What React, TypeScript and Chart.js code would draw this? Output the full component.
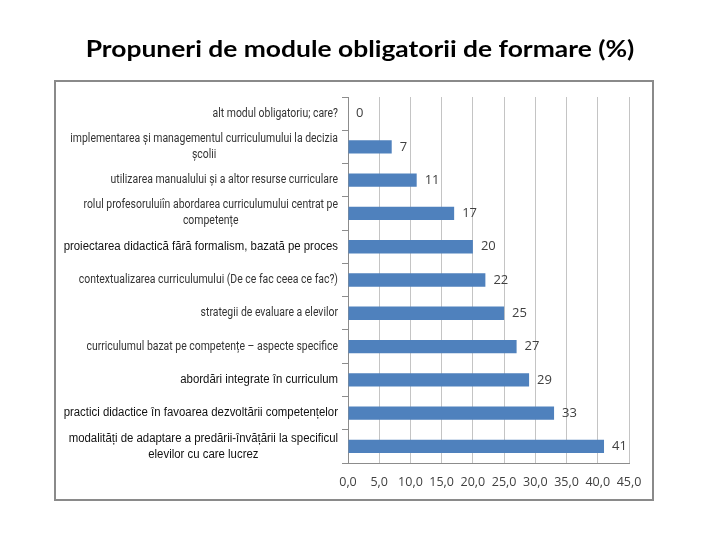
import { useEffect, useRef } from "react";
import { Chart, registerables } from "chart.js";

Chart.register(...registerables);

const titleText = "Propuneri de module obligatorii de formare (%)";

const categories: string[][] = [
  ["alt modul obligatoriu; care?"],
  ["implementarea și managementul curriculumului la decizia", "școlii"],
  ["utilizarea manualului și a altor resurse curriculare"],
  ["rolul profesoruluiîn abordarea curriculumului centrat pe", "competențe"],
  ["proiectarea didactică fără formalism, bazată pe proces"],
  ["contextualizarea curriculumului (De ce fac ceea ce fac?)"],
  ["strategii de evaluare a elevilor"],
  ["curriculumul bazat pe competențe – aspecte specifice"],
  ["abordări integrate în curriculum"],
  ["practici didactice în favoarea dezvoltării competențelor"],
  ["modalități de adaptare a predării-învățării la specificul", "elevilor cu care lucrez"],
];

const categoryFontKind = ["narrow", "narrow", "narrow", "narrow", "sans", "narrow", "narrow", "narrow", "sans", "sans", "sans"];

const values = [0, 7, 11, 17, 20, 22, 25, 27, 29, 33, 41];

const xTickLabels = ["0,0", "5,0", "10,0", "15,0", "20,0", "25,0", "30,0", "35,0", "40,0", "45,0"];

const NARROW_FONT = '12px "Roboto", sans-serif';
const NARROW_SCALE = 0.87;
const SANS_FONT = '12px "Liberation Sans", Arial, sans-serif';
const SANS_SCALE = 0.95;
const TITLE_FONT = 'bold 22px "Lato", "Open Sans", sans-serif';
const TITLE_SCALE = 1.2;

export default function App() {
  const canvasRef = useRef<HTMLCanvasElement | null>(null);

  useEffect(() => {
    const canvas = canvasRef.current;
    if (!canvas) return;

    const decorPlugin = {
      id: "decor",
      beforeDraw(chart: any) {
        const ctx = chart.ctx;
        ctx.save();
        ctx.fillStyle = "#ffffff";
        ctx.fillRect(0, 0, chart.width, chart.height);
        ctx.strokeStyle = "#8a8a8a";
        ctx.lineWidth = 2;
        ctx.strokeRect(55, 81, 598, 419);
        ctx.fillStyle = "#000000";
        ctx.font = TITLE_FONT;
        ctx.textAlign = "center";
        ctx.textBaseline = "middle";
        ctx.translate(360, 50);
        ctx.scale(TITLE_SCALE, 1);
        ctx.fillText(titleText, 0, 0);
        ctx.restore();
      },
      afterDraw(chart: any) {
        const ctx = chart.ctx;
        const yScale = chart.scales.y;
        const rightEdge = chart.chartArea.left - 10;
        categories.forEach((lines, i) => {
          const kind = categoryFontKind[i];
          const sx = kind === "sans" ? SANS_SCALE : NARROW_SCALE;
          ctx.save();
          ctx.textBaseline = "middle";
          ctx.textAlign = "center";
          ctx.font = kind === "sans" ? SANS_FONT : NARROW_FONT;
          ctx.fillStyle = kind === "sans" ? "#111111" : "#333333";
          let maxW = 0;
          lines.forEach((l) => {
            maxW = Math.max(maxW, ctx.measureText(l).width * sx);
          });
          const cx = rightEdge - maxW / 2;
          const yc = yScale.getPixelForValue(i);
          const lh = 16;
          const start = yc - ((lines.length - 1) * lh) / 2;
          lines.forEach((l, j) => {
            ctx.save();
            ctx.translate(cx, start + j * lh);
            ctx.scale(sx, 1);
            ctx.fillText(l, 0, 0);
            ctx.restore();
          });
          ctx.restore();
        });
      },
      afterDatasetsDraw(chart: any) {
        const ctx = chart.ctx;
        const meta = chart.getDatasetMeta(0);
        ctx.save();
        ctx.font = '13px "Open Sans", sans-serif';
        ctx.fillStyle = "#404040";
        ctx.textAlign = "left";
        ctx.textBaseline = "middle";
        meta.data.forEach((el: any, i: number) => {
          ctx.fillText(String(values[i]), el.x + 8, el.y);
        });
        ctx.restore();
      },
    };

    const chart = new Chart(canvas, {
      type: "bar",
      data: {
        labels: categories.map((c) => c.join(" ")),
        datasets: [
          {
            data: values,
            backgroundColor: "#4f81bd",
            borderWidth: 0,
            barPercentage: 0.4,
            categoryPercentage: 1.0,
          },
        ],
      },
      options: {
        indexAxis: "y",
        responsive: false,
        animation: false,
        layout: { padding: { top: 97, right: 91, bottom: 37, left: 0 } },
        plugins: {
          legend: { display: false },
          tooltip: { enabled: false },
          title: { display: false },
        },
        scales: {
          x: {
            type: "linear",
            min: 0,
            max: 45,
            ticks: {
              stepSize: 5,
              padding: 12,
              color: "#404040",
              font: { family: '"Open Sans", sans-serif', size: 12.5 },
              callback: (_v: any, i: number) => xTickLabels[i],
            },
            grid: { color: "#c4c4c4", drawTicks: false, lineWidth: 1 },
            border: { color: "#8c8c8c", display: true },
            afterFit: (scale: any) => {
              scale.height = 40;
            },
          },
          y: {
            type: "category",
            ticks: { display: false },
            grid: { drawOnChartArea: false, offset: true, tickLength: 6, color: "#8c8c8c" },
            border: { color: "#8c8c8c", display: true },
            afterFit: (scale: any) => {
              scale.width = 348;
            },
          },
        },
      },
      plugins: [decorPlugin],
    });

    return () => {
      chart.destroy();
    };
  }, []);

  return (
    <div style={{ position: "absolute", left: 0, top: 0, width: 720, height: 540 }}>
      <canvas ref={canvasRef} width={720} height={540} />
    </div>
  );
}
